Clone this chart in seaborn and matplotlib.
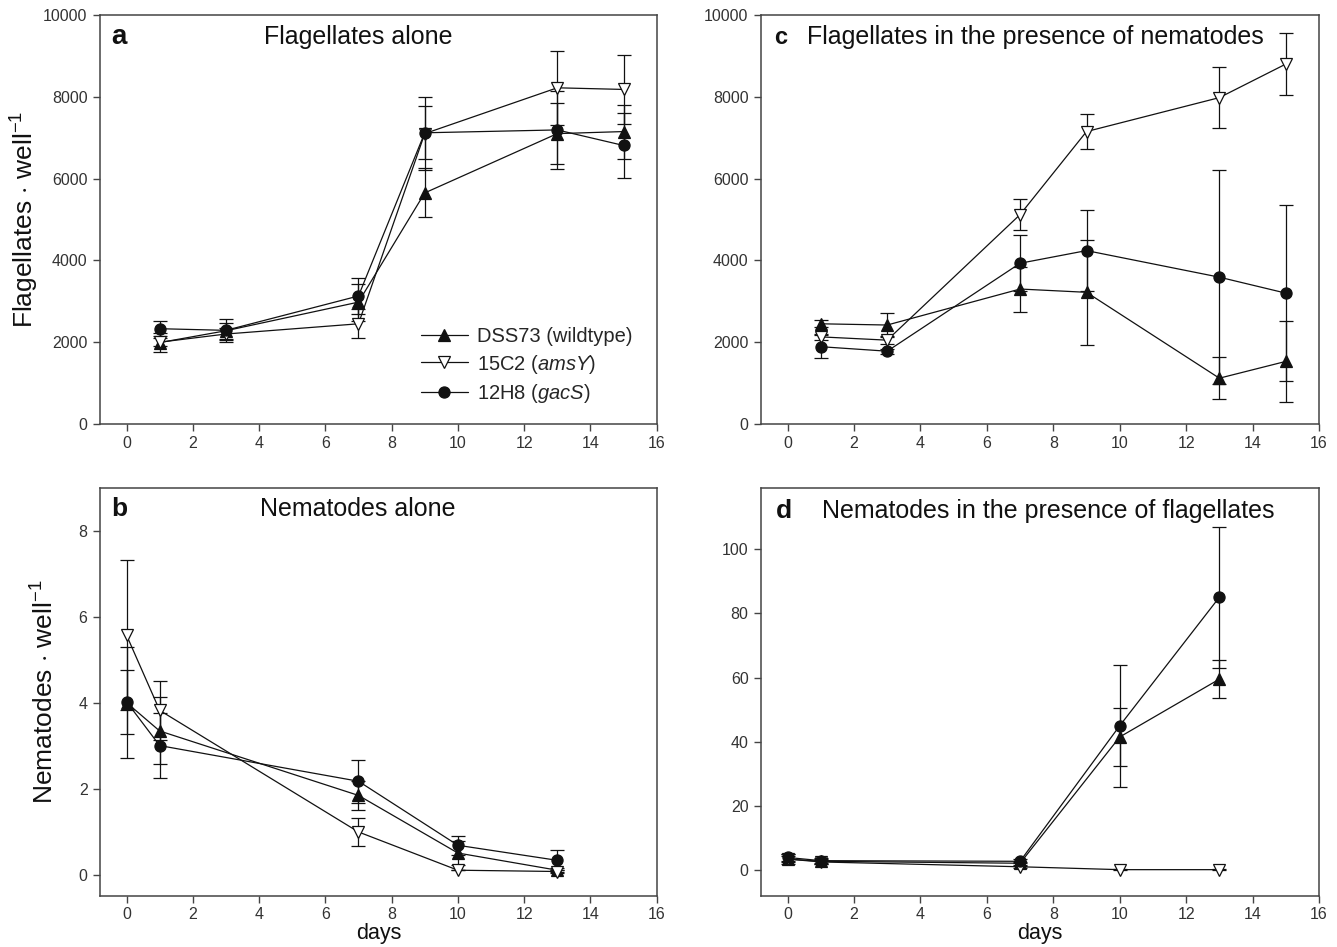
import numpy as np
import pandas as pd
import matplotlib
matplotlib.use("Agg")
import matplotlib.pyplot as plt
import seaborn as sns

# ---------------- data ----------------
strain_labels = [r"DSS73 (wildtype)", r"15C2 ($\mathit{amsY}$)", r"12H8 ($\mathit{gacS}$)"]

days_flag = [1, 3, 7, 9, 13, 15]
days_nem = [0, 1, 7, 10, 13]

# panel a: flagellates alone
a_dss = [1990, 2280, 2980, 5650, 7100, 7150]
a_dss_err = [230, 200, 450, 600, 750, 660]
a_15c2 = [2000, 2200, 2450, 7100, 8220, 8180]
a_15c2_err = [100, 150, 350, 900, 900, 840]
a_12h8 = [2330, 2290, 3130, 7120, 7190, 6810]
a_12h8_err = [180, 280, 450, 650, 950, 800]

# panel c: flagellates in presence of nematodes
c_dss = [2450, 2420, 3300, 3220, 1120, 1530]
c_dss_err = [90, 300, 550, 1290, 520, 980]
c_15c2 = [2130, 2050, 5120, 7150, 7980, 8800]
c_15c2_err = [80, 100, 370, 430, 740, 750]
c_12h8 = [1890, 1780, 3930, 4240, 3590, 3200]
c_12h8_err = [280, 60, 680, 1000, 2620, 2150]

# panel b: nematodes alone
b_dss = [4.0, 3.34, 1.84, 0.5, 0.1]
b_dss_err = [1.3, 0.78, 0.33, 0.27, 0.05]
b_15c2 = [5.57, 3.82, 0.99, 0.1, 0.07]
b_15c2_err = [1.75, 0.68, 0.32, 0.0, 0.03]
b_12h8 = [4.02, 3.0, 2.17, 0.68, 0.33]
b_12h8_err = [0.75, 0.75, 0.5, 0.22, 0.23]

# panel d: nematodes in presence of flagellates
d_dss = [3.5, 2.8, 2.2, 41.5, 59.5]
d_dss_err = [1.5, 0.8, 0.5, 9.0, 6.0]
d_15c2 = [3.5, 2.6, 1.1, 0.2, 0.2]
d_15c2_err = [1.0, 0.5, 0.3, 0.1, 0.1]
d_12h8 = [4.0, 3.0, 2.8, 45.0, 85.0]
d_12h8_err = [1.0, 0.8, 0.6, 19.0, 22.0]

# ---------------- style ----------------
sns.set_theme(style="ticks")
plt.rcParams["font.family"] = ["Liberation Sans", "DejaVu Sans"]
plt.rcParams["mathtext.fontset"] = "custom"
plt.rcParams["mathtext.rm"] = "Liberation Sans"
plt.rcParams["mathtext.it"] = "Liberation Sans:italic"
plt.rcParams["mathtext.bf"] = "Liberation Sans:bold"

INK = "#111111"
SPINE = "#444444"
marker_styles = [
    dict(marker="^", markerfacecolor=INK, markeredgecolor=INK),
    dict(marker="v", markerfacecolor="white", markeredgecolor=INK),
    dict(marker="o", markerfacecolor=INK, markeredgecolor=INK),
]

fig = plt.figure(figsize=(13.37, 9.47), dpi=100)
W, H = 1337, 947


def make_ax(x0, x1, ytop, ybot):
    return fig.add_axes([x0 / W, 1 - ybot / H, (x1 - x0) / W, (ybot - ytop) / H])


ax_a = make_ax(100, 656.7, 15, 424)
ax_c = make_ax(761, 1319, 15, 424)
ax_b = make_ax(100, 656.7, 487.7, 896)
ax_d = make_ax(761, 1319, 488, 896)


def draw_panel(ax, days, series, errs):
    for i, (vals, err) in enumerate(zip(series, errs)):
        df = pd.DataFrame({"day": days, "value": vals})
        ax.errorbar(days, vals, yerr=err, fmt="none", ecolor=INK, elinewidth=0.9,
                    capsize=5, capthick=0.9, zorder=2)
        sns.lineplot(data=df, x="day", y="value", ax=ax, color=INK, linewidth=0.9,
                     markersize=8, markeredgewidth=0.9, label=strain_labels[i],
                     legend=False, zorder=3 + i, **marker_styles[i])
    ax.set_xlim(-0.8, 16)
    ax.set_xticks(range(0, 17, 2))
    ax.set_xlabel("")
    ax.set_ylabel("")
    for s in ax.spines.values():
        s.set_visible(True)
        s.set_color(SPINE)
        s.set_linewidth(1.1)
    ax.tick_params(axis="both", direction="out", length=5, width=1.0, color=SPINE,
                   labelsize=11.5, labelcolor="#333333", pad=4)


draw_panel(ax_a, days_flag, [a_dss, a_15c2, a_12h8], [a_dss_err, a_15c2_err, a_12h8_err])
draw_panel(ax_c, days_flag, [c_dss, c_15c2, c_12h8], [c_dss_err, c_15c2_err, c_12h8_err])
draw_panel(ax_b, days_nem, [b_dss, b_15c2, b_12h8], [b_dss_err, b_15c2_err, b_12h8_err])
draw_panel(ax_d, days_nem, [d_dss, d_15c2, d_12h8], [d_dss_err, d_15c2_err, d_12h8_err])

for ax in (ax_a, ax_c):
    ax.set_ylim(0, 10000)
    ax.set_yticks(range(0, 10001, 2000))
ax_b.set_ylim(-0.5, 9)
ax_b.set_yticks(range(0, 9, 2))
ax_d.set_ylim(-8, 119)
ax_d.set_yticks(range(0, 101, 20))
for ax in (ax_b, ax_d):
    ax.tick_params(axis="x", pad=3)

TFS = 18
# panel letters & titles
ax_a.text(0.02, 0.946, "a", transform=ax_a.transAxes, fontsize=20, fontweight="bold",
          va="center", ha="left", color=INK)
ax_a.text(0.463, 0.946, "Flagellates alone", transform=ax_a.transAxes, fontsize=TFS,
          va="center", ha="center", color=INK)
ax_c.text(0.024, 0.946, "c", transform=ax_c.transAxes, fontsize=17, fontweight="bold",
          va="center", ha="left", color=INK)
ax_c.text(0.083, 0.946, "Flagellates in the presence of nematodes", transform=ax_c.transAxes,
          fontsize=TFS, va="center", ha="left", color=INK)
ax_b.text(0.02, 0.947, "b", transform=ax_b.transAxes, fontsize=19, fontweight="bold",
          va="center", ha="left", color=INK)
ax_b.text(0.463, 0.947, "Nematodes alone", transform=ax_b.transAxes, fontsize=TFS,
          va="center", ha="center", color=INK)
ax_d.text(0.027, 0.944, "d", transform=ax_d.transAxes, fontsize=19, fontweight="bold",
          va="center", ha="left", color=INK)
ax_d.text(0.11, 0.944, "Nematodes in the presence of flagellates", transform=ax_d.transAxes,
          fontsize=TFS, va="center", ha="left", color=INK)

# axis labels
ax_a.set_ylabel(r"Flagellates $\cdot$ well$^{-1}$", fontsize=19, color=INK)
ax_a.yaxis.set_label_coords(-0.106, 0.5)
ax_b.set_ylabel(r"Nematodes $\cdot$ well$^{-1}$", fontsize=19, color=INK)
ax_b.yaxis.set_label_coords(-0.075, 0.5)
for ax in (ax_b, ax_d):
    ax.set_xlabel("days", fontsize=15.5, color=INK)
    ax.xaxis.set_label_coords(0.5, -0.066)

# legend in panel a
handles, labels = ax_a.get_legend_handles_labels()
ax_a.legend(handles, labels, loc="upper left", bbox_to_anchor=(0.577, 0.236),
            frameon=False, fontsize=14.5, handlelength=2.3, handletextpad=0.45,
            labelspacing=0.3, borderpad=0, borderaxespad=0)

fig.savefig("out.png", dpi=100)
